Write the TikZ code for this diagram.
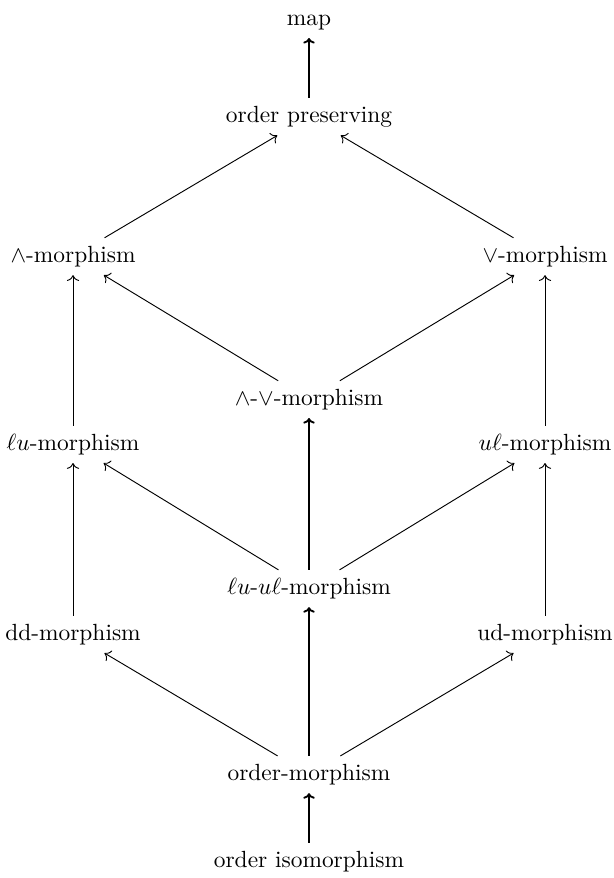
\documentclass[tikz,border=0pt]{standalone}
\usetikzlibrary{arrows.meta}
\begin{document}
\begin{tikzpicture}[x=1pt,y=1pt,
  lbl/.style={anchor=base, inner sep=3.333pt},
  thin arrow/.style={->},
  thick arrow/.style={-{To[scale=0.7]}, thick}]
\useasboundingbox (0,0) rectangle (262,375.2);
\begin{scope}[yshift=-1pt]
\node[lbl] (map) at (132.05,365.4) {map};
\node[lbl] (op) at (132.05,323.9) {order preserving};
\node[lbl] (wedge) at (31.2,264.1) {$\wedge$-morphism};
\node[lbl] (vee) at (232.9,264.1) {$\vee$-morphism};
\node[lbl] (wv) at (132.05,203.0) {$\wedge$-$\vee$-morphism};
\node[lbl] (lu) at (31.2,183.8) {$\ell u$-morphism};
\node[lbl] (ul) at (232.9,183.8) {$u\ell$-morphism};
\node[lbl] (luul) at (132.05,122.2) {$\ell u$-$u\ell$-morphism};
\node[lbl] (dd) at (31.2,102.6) {dd-morphism};
\node[lbl] (ud) at (232.9,102.6) {ud-morphism};
\node[lbl] (om) at (132.05,42.7) {order-morphism};
\node[lbl] (oi) at (132.05,5.6) {order isomorphism};
\end{scope}

\draw[thick arrow] (op) -- (map);
\draw[thin arrow] (wedge) -- (op);
\draw[thin arrow] (vee) -- (op);
\draw[thin arrow] (wv) -- (wedge);
\draw[thin arrow] (wv) -- (vee);
\draw[thin arrow] (lu) -- (wedge);
\draw[thin arrow] (ul) -- (vee);
\draw[thick arrow] (luul) -- (wv);
\draw[thin arrow] (luul) -- (lu);
\draw[thin arrow] (luul) -- (ul);
\draw[thin arrow] (dd) -- (lu);
\draw[thin arrow] (ud) -- (ul);
\draw[thick arrow] (om) -- (luul);
\draw[thin arrow] (om) -- (dd);
\draw[thin arrow] (om) -- (ud);
\draw[thick arrow] (oi) -- (om);
\end{tikzpicture}
\end{document}
